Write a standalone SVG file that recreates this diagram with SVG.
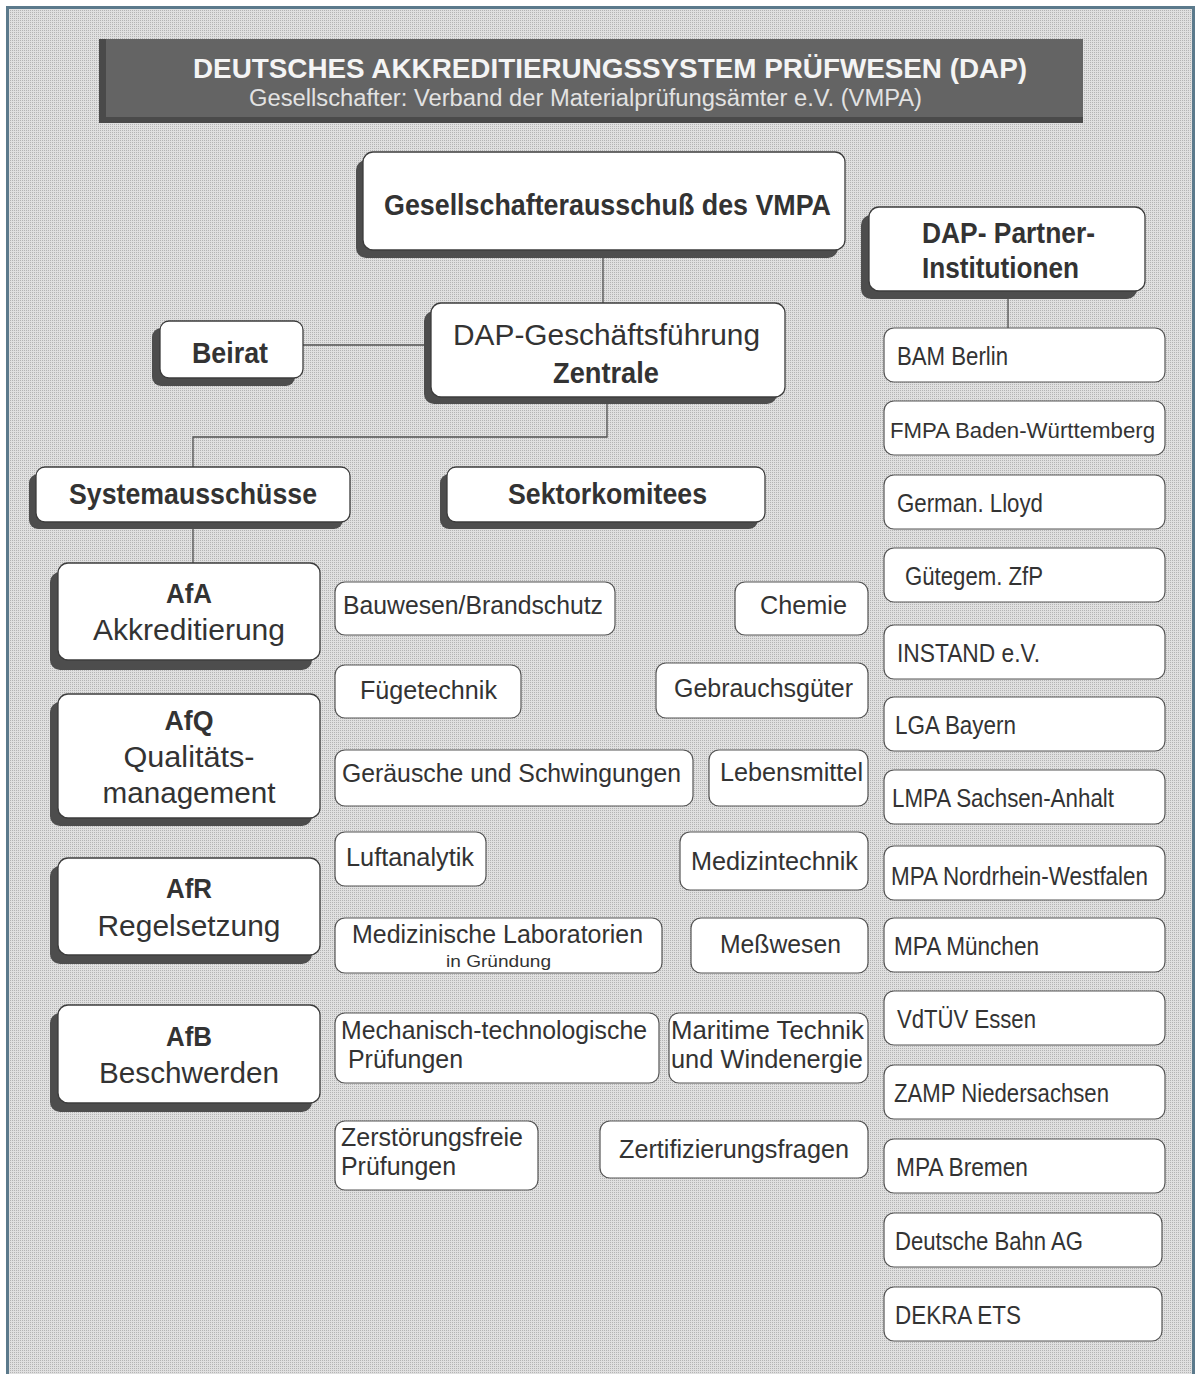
<svg xmlns="http://www.w3.org/2000/svg" width="1196" height="1374" viewBox="0 0 1196 1374">
<defs>
<pattern id="dither" width="2" height="2" patternUnits="userSpaceOnUse">
<rect width="2" height="2" fill="#e0e0e0"/>
<rect width="1" height="1" fill="#b4b4b4"/>
</pattern>
<style>
.bg{fill:url(#dither)}
.frame{fill:none;stroke:#5b7a8c;stroke-width:3}
.box{fill:#fff;stroke:#3c3c3c;stroke-width:1.3}
.sbox{fill:#fff;stroke:#555;stroke-width:1.2}
.sh{fill:#4d4d4d}
.ln{fill:none;stroke:#505050;stroke-width:1.3}
text{font-family:"Liberation Sans",Arial,Helvetica,sans-serif;fill:#333}
.b{font-weight:bold}
.c{text-anchor:middle}
.m{font-size:29px}
.s{font-size:25px}
.p{font-size:26px;font-family:"Liberation Sans Narrow","Liberation Sans",Arial,sans-serif}
.tt{fill:#f4f4f4}
</style>
</defs>
<rect x="0" y="0" width="1196" height="1374" fill="#fff"/>
<rect class="bg" x="8" y="8" width="1184" height="1366"/>
<path class="frame" d="M7.5,1374 V7.5 H1193.5 V1374"/>

<g id="title">
<rect x="99" y="39" width="984" height="84" fill="#4a4a4a"/>
<rect x="106" y="39" width="977" height="78" fill="#646464"/>
<text class="b tt" x="193" y="78" font-size="27" textLength="834" lengthAdjust="spacingAndGlyphs">DEUTSCHES AKKREDITIERUNGSSYSTEM PRÜFWESEN (DAP)</text>
<text class="tt" x="249" y="106" font-size="23" textLength="673" lengthAdjust="spacingAndGlyphs" style="fill:#e2e2e2">Gesellschafter: Verband der Materialprüfungsämter e.V. (VMPA)</text>
</g>

<g id="connectors">
<path class="ln" d="M603,250 V303"/>
<path class="ln" d="M303,345 H430"/>
<path class="ln" d="M607,397 V437 H193 V467"/>
<path class="ln" d="M193,522 V563"/>
<path class="ln" d="M1008,291 V328"/>
</g>

<g id="gesellschafterausschuss">
<rect class="sh" x="356" y="160" width="482" height="98" rx="10"/>
<rect class="box" x="363" y="152" width="482" height="98" rx="10"/>
<text class="b m" x="384" y="215" textLength="447" lengthAdjust="spacingAndGlyphs">Gesellschafterausschuß des VMPA</text>
</g>

<g id="partner-head">
<rect class="sh" x="861" y="215" width="276" height="84" rx="10"/>
<rect class="box" x="869" y="207" width="276" height="84" rx="10"/>
<text class="b m" x="922" y="243" textLength="173" lengthAdjust="spacingAndGlyphs">DAP- Partner-</text>
<text class="b m" x="922" y="278" textLength="157" lengthAdjust="spacingAndGlyphs">Institutionen</text>
</g>

<g id="beirat">
<rect class="sh" x="152" y="328" width="143" height="58" rx="9"/>
<rect class="box" x="160" y="321" width="143" height="57" rx="9"/>
<text class="b m" x="192" y="363" textLength="76" lengthAdjust="spacingAndGlyphs">Beirat</text>
</g>

<g id="geschaeftsfuehrung">
<rect class="sh" x="424" y="311" width="353" height="93" rx="10"/>
<rect class="box" x="431" y="303" width="354" height="94" rx="10"/>
<text class="m" x="453" y="345" font-size="30" textLength="307" lengthAdjust="spacingAndGlyphs">DAP-Geschäftsführung</text>
<text class="b m c" x="606" y="383" textLength="106" lengthAdjust="spacingAndGlyphs">Zentrale</text>
</g>

<g id="systemausschuesse">
<rect class="sh" x="29" y="474" width="314" height="55" rx="9"/>
<rect class="box" x="36" y="467" width="314" height="55" rx="9"/>
<text class="b m" x="69" y="504" textLength="248" lengthAdjust="spacingAndGlyphs">Systemausschüsse</text>
</g>

<g id="sektorkomitees">
<rect class="sh" x="440" y="474" width="318" height="55" rx="9"/>
<rect class="box" x="447" y="467" width="318" height="55" rx="9"/>
<text class="b m" x="508" y="504" textLength="199" lengthAdjust="spacingAndGlyphs">Sektorkomitees</text>
</g>

<g id="afa">
<rect class="sh" x="50" y="572" width="262" height="98" rx="10"/>
<rect class="box" x="58" y="563" width="262" height="97" rx="10"/>
<text class="b c" x="189" y="603" font-size="28" textLength="46" lengthAdjust="spacingAndGlyphs">AfA</text>
<text class="c" x="189" y="640" font-size="30" textLength="192" lengthAdjust="spacingAndGlyphs">Akkreditierung</text>
</g>

<g id="afq">
<rect class="sh" x="50" y="702" width="262" height="124" rx="10"/>
<rect class="box" x="58" y="694" width="262" height="124" rx="10"/>
<text class="b c" x="189" y="730" font-size="28" textLength="49" lengthAdjust="spacingAndGlyphs">AfQ</text>
<text class="c" x="189" y="767" font-size="30" textLength="131" lengthAdjust="spacingAndGlyphs">Qualitäts-</text>
<text class="c" x="189" y="803" font-size="30" textLength="173" lengthAdjust="spacingAndGlyphs">management</text>
</g>

<g id="afr">
<rect class="sh" x="50" y="866" width="262" height="98" rx="10"/>
<rect class="box" x="58" y="858" width="262" height="97" rx="10"/>
<text class="b c" x="189" y="898" font-size="28" textLength="46" lengthAdjust="spacingAndGlyphs">AfR</text>
<text class="c" x="189" y="936" font-size="30" textLength="183" lengthAdjust="spacingAndGlyphs">Regelsetzung</text>
</g>

<g id="afb">
<rect class="sh" x="50" y="1013" width="262" height="99" rx="10"/>
<rect class="box" x="58" y="1005" width="262" height="98" rx="10"/>
<text class="b c" x="189" y="1046" font-size="28" textLength="46" lengthAdjust="spacingAndGlyphs">AfB</text>
<text class="c" x="189" y="1083" font-size="30" textLength="180" lengthAdjust="spacingAndGlyphs">Beschwerden</text>
</g>

<g id="bauwesen"><rect class="sbox" x="335" y="582" width="280" height="53" rx="10"/><text class="s" x="343" y="614" textLength="260" lengthAdjust="spacingAndGlyphs">Bauwesen/Brandschutz</text></g>
<g id="chemie"><rect class="sbox" x="735" y="582" width="133" height="53" rx="10"/><text class="s" x="760" y="614" textLength="87" lengthAdjust="spacingAndGlyphs">Chemie</text></g>
<g id="fuegetechnik"><rect class="sbox" x="335" y="665" width="186" height="53" rx="10"/><text class="s" x="360" y="699" textLength="137" lengthAdjust="spacingAndGlyphs">Fügetechnik</text></g>
<g id="gebrauchsgueter"><rect class="sbox" x="656" y="663" width="212" height="55" rx="10"/><text class="s" x="674" y="697" textLength="179" lengthAdjust="spacingAndGlyphs">Gebrauchsgüter</text></g>
<g id="geraeusche"><rect class="sbox" x="335" y="750" width="358" height="56" rx="10"/><text class="s" x="342" y="782" textLength="339" lengthAdjust="spacingAndGlyphs">Geräusche und Schwingungen</text></g>
<g id="lebensmittel"><rect class="sbox" x="709" y="750" width="159" height="56" rx="10"/><text class="s" x="720" y="781" textLength="143" lengthAdjust="spacingAndGlyphs">Lebensmittel</text></g>
<g id="luftanalytik"><rect class="sbox" x="335" y="832" width="151" height="54" rx="10"/><text class="s" x="346" y="866" textLength="128" lengthAdjust="spacingAndGlyphs">Luftanalytik</text></g>
<g id="medizintechnik"><rect class="sbox" x="680" y="832" width="188" height="58" rx="10"/><text class="s" x="691" y="870" textLength="167" lengthAdjust="spacingAndGlyphs">Medizintechnik</text></g>
<g id="medlabor"><rect class="sbox" x="335" y="918" width="327" height="55" rx="10"/><text class="s" x="352" y="943" textLength="291" lengthAdjust="spacingAndGlyphs">Medizinische Laboratorien</text><text x="446" y="967" font-size="17" textLength="105" lengthAdjust="spacingAndGlyphs">in Gründung</text></g>
<g id="messwesen"><rect class="sbox" x="691" y="918" width="177" height="55" rx="10"/><text class="s" x="720" y="953" textLength="121" lengthAdjust="spacingAndGlyphs">Meßwesen</text></g>
<g id="mechanisch"><rect class="sbox" x="335" y="1013" width="324" height="70" rx="10"/><text class="s" x="341" y="1039" textLength="306" lengthAdjust="spacingAndGlyphs">Mechanisch-technologische</text><text class="s" x="348" y="1068" textLength="115" lengthAdjust="spacingAndGlyphs">Prüfungen</text></g>
<g id="maritime"><rect class="sbox" x="669" y="1013" width="199" height="70" rx="10"/><text class="s" x="671" y="1039" textLength="193" lengthAdjust="spacingAndGlyphs">Maritime Technik</text><text class="s" x="671" y="1068" textLength="192" lengthAdjust="spacingAndGlyphs">und Windenergie</text></g>
<g id="zerstoerungsfrei"><rect class="sbox" x="335" y="1121" width="203" height="69" rx="10"/><text class="s" x="341" y="1146" textLength="182" lengthAdjust="spacingAndGlyphs">Zerstörungsfreie</text><text class="s" x="341" y="1175" textLength="115" lengthAdjust="spacingAndGlyphs">Prüfungen</text></g>
<g id="zertifizierung"><rect class="sbox" x="600" y="1121" width="268" height="57" rx="10"/><text class="s" x="619" y="1158" textLength="230" lengthAdjust="spacingAndGlyphs">Zertifizierungsfragen</text></g>

<g id="p-bam"><rect class="sbox" x="884" y="328" width="281" height="54" rx="10"/><text class="p" x="897" y="365" textLength="111" lengthAdjust="spacingAndGlyphs">BAM Berlin</text></g>
<g id="p-fmpa"><rect class="sbox" x="884" y="401" width="281" height="54" rx="10"/><text class="p" x="890" y="438" style="font-size:22.5px" textLength="265" lengthAdjust="spacingAndGlyphs">FMPA Baden-Württemberg</text></g>
<g id="p-lloyd"><rect class="sbox" x="884" y="475" width="281" height="54" rx="10"/><text class="p" x="897" y="512" textLength="146" lengthAdjust="spacingAndGlyphs">German. Lloyd</text></g>
<g id="p-zfp"><rect class="sbox" x="884" y="548" width="281" height="54" rx="10"/><text class="p" x="905" y="585" textLength="138" lengthAdjust="spacingAndGlyphs">Gütegem. ZfP</text></g>
<g id="p-instand"><rect class="sbox" x="884" y="625" width="281" height="54" rx="10"/><text class="p" x="897" y="662" textLength="143" lengthAdjust="spacingAndGlyphs">INSTAND e.V.</text></g>
<g id="p-lga"><rect class="sbox" x="884" y="697" width="281" height="54" rx="10"/><text class="p" x="895" y="734" textLength="121" lengthAdjust="spacingAndGlyphs">LGA Bayern</text></g>
<g id="p-lmpa"><rect class="sbox" x="884" y="770" width="281" height="54" rx="10"/><text class="p" x="892" y="807" textLength="222" lengthAdjust="spacingAndGlyphs">LMPA Sachsen-Anhalt</text></g>
<g id="p-mpanrw"><rect class="sbox" x="884" y="846" width="281" height="54" rx="10"/><text class="p" x="891" y="885" textLength="257" lengthAdjust="spacingAndGlyphs">MPA Nordrhein-Westfalen</text></g>
<g id="p-mpam"><rect class="sbox" x="884" y="918" width="281" height="54" rx="10"/><text class="p" x="894" y="955" textLength="145" lengthAdjust="spacingAndGlyphs">MPA München</text></g>
<g id="p-vdtuev"><rect class="sbox" x="884" y="991" width="281" height="54" rx="10"/><text class="p" x="897" y="1028" textLength="139" lengthAdjust="spacingAndGlyphs">VdTÜV Essen</text></g>
<g id="p-zamp"><rect class="sbox" x="884" y="1065" width="281" height="54" rx="10"/><text class="p" x="894" y="1102" textLength="215" lengthAdjust="spacingAndGlyphs">ZAMP Niedersachsen</text></g>
<g id="p-mpab"><rect class="sbox" x="884" y="1139" width="281" height="54" rx="10"/><text class="p" x="896" y="1176" textLength="132" lengthAdjust="spacingAndGlyphs">MPA Bremen</text></g>
<g id="p-db"><rect class="sbox" x="884" y="1213" width="278" height="54" rx="10"/><text class="p" x="895" y="1250" textLength="188" lengthAdjust="spacingAndGlyphs">Deutsche Bahn AG</text></g>
<g id="p-dekra"><rect class="sbox" x="884" y="1287" width="278" height="54" rx="10"/><text class="p" x="895" y="1324" textLength="126" lengthAdjust="spacingAndGlyphs">DEKRA ETS</text></g>
</svg>
